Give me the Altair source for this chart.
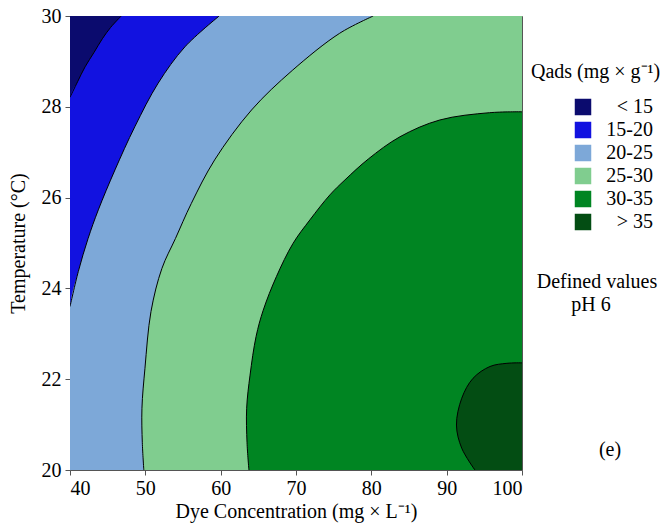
import altair as alt
import pandas as pd

FONT = "Liberation Serif"

levels = ["< 15", "15-20", "20-25", "25-30", "30-35", "> 35"]
colors = ["#0b0b6e", "#1212e0", "#7da8d8", "#80cd8f", "#008522", "#034d13"]

x_ticks = [40, 50, 60, 70, 80, 90, 100]
y_ticks = [20, 22, 24, 26, 28, 30]

# contour boundaries: temperature (y) and dye concentration (x)
b1_y = [28.21, 28.55, 28.88, 29.2, 29.5, 29.75, 30.0]
b1_x = [40.0, 41.0, 42.0, 43.2, 44.3, 45.4, 46.8]
b2_y = [23.6, 24.37, 25.1, 25.73, 26.61, 27.56, 28.52, 29.32, 30.0]
b2_x = [40.0, 41.1, 42.4, 43.76, 45.97, 48.6, 51.7, 55.25, 59.8]
b3_y = [20.0, 20.6, 21.36, 22.24, 23.49, 24.44, 25.1, 25.87, 26.83, 27.93, 28.8, 29.62, 30.0]
b3_x = [49.8, 49.6, 49.55, 49.95, 50.75, 52.2, 54.0, 56.1, 59.2, 64.1, 69.5, 75.8, 80.25]
b4_y = [20.0, 20.6, 21.36, 22.09, 22.94, 23.52, 24.26, 24.99, 25.51, 26.06, 26.39, 26.85, 27.34, 27.71, 27.87, 27.89]
b4_x = [63.75, 63.5, 63.45, 63.9, 64.7, 65.65, 67.4, 69.6, 71.85, 74.5, 76.5, 79.6, 83.8, 89.1, 95.7, 100.0]
b5_y = [20.0, 20.48, 20.99, 21.58, 22.02, 22.28, 22.35, 22.36]
b5_x = [93.75, 92.0, 91.3, 92.0, 93.5, 95.75, 98.0, 100.0]

boundaries = [(b1_x, b1_y), (b2_x, b2_y), (b3_x, b3_y), (b4_x, b4_y), (b5_x, b5_y)]

x_min, x_max = 40, 100
y_min, y_max = 20, 30

color_scale = alt.Scale(domain=levels, range=colors)
legend = alt.Legend(
    title=None, orient="none", legendX=503, legendY=81, padding=0,
    symbolType="square", symbolSize=272, symbolStrokeWidth=0, symbolOpacity=1,
    labelFont=FONT, labelFontSize=20, labelColor="black", labelAlign="right",
    labelOffset=60, rowPadding=3, labelLimit=200,
)

xs = alt.Scale(domain=[x_min, x_max], nice=False, zero=False)
ys = alt.Scale(domain=[y_min, y_max], nice=False, zero=False)

x_axis = alt.Axis(values=x_ticks, title="Dye Concentration (mg × L⁻¹)", grid=False, domain=False,
                  tickSize=5, tickColor="#555", labelPadding=3, titlePadding=3)
y_axis = alt.Axis(values=y_ticks, title="Temperature (°C)", grid=False, domain=False,
                  tickSize=5, tickColor="#555", labelPadding=4, titlePadding=13)

# base (lowest level) covering the whole plot
base_df = pd.DataFrame({"x": [x_min], "x2": [x_max], "y": [y_min], "y2": [y_max], "level": [levels[0]]})
base = alt.Chart(base_df).mark_rect(opacity=1).encode(
    x=alt.X("x:Q", scale=xs, axis=x_axis),
    x2="x2:Q",
    y=alt.Y("y:Q", scale=ys, axis=y_axis),
    y2="y2:Q",
    color=alt.Color("level:N", scale=color_scale, legend=legend),
)

layers = [base]
line_rows = []
for k, (bx, by) in enumerate(boundaries):
    px, py = list(bx), list(by)
    if px[0] == x_min and py[0] > y_min:
        px = [x_min] + px
        py = [y_min] + py
    df = pd.DataFrame({"X": px, "Y": py, "X2": [x_max] * len(px), "level": [levels[k + 1]] * len(px)})
    layers.append(
        alt.Chart(df).mark_area(orient="horizontal", opacity=1, interpolate="catmull-rom",
                                clip=True).encode(
            y=alt.Y("Y:Q", scale=ys),
            x=alt.X("X:Q", scale=xs, stack=None),
            x2="X2:Q",
            color=alt.Color("level:N", scale=color_scale, legend=legend),
        )
    )
    for i, (a, b) in enumerate(zip(bx, by)):
        line_rows.append({"X": a, "Y": b, "curve": k, "i": i})

lines_df = pd.DataFrame(line_rows)
lines = alt.Chart(lines_df).mark_line(color="black", strokeWidth=1, interpolate="catmull-rom",
                                      clip=True).encode(
    x=alt.X("X:Q", scale=xs),
    y=alt.Y("Y:Q", scale=ys),
    detail="curve:N",
    order="i:Q",
)
layers.append(lines)

one = pd.DataFrame({"a": [0]})

def label(text, x, y, align="center"):
    return alt.Chart(one).mark_text(font=FONT, fontSize=20, color="black", align=align,
                                    baseline="middle").encode(
        x=alt.value(x), y=alt.value(y), text=alt.value(text))

layers += [
    label("Qads (mg × g⁻¹)", 461, 56, "left"),
    label("Defined values", 527, 266),
    label("pH 6", 521, 289),
    label("(e)", 540, 434),
]

chart = alt.layer(*layers).properties(
    width=452, height=454,
    autosize=alt.AutoSizeParams(type="none"),
    padding={"left": 70, "top": 16, "right": 147, "bottom": 56},
).configure_view(
    stroke="#555", strokeWidth=1
).configure_axis(
    labelFont=FONT, labelFontSize=20, labelColor="black",
    titleFont=FONT, titleFontSize=20, titleFontWeight="normal", titleColor="black",
)

chart.save("out.html", embed_options={"renderer": "svg", "actions": False})
